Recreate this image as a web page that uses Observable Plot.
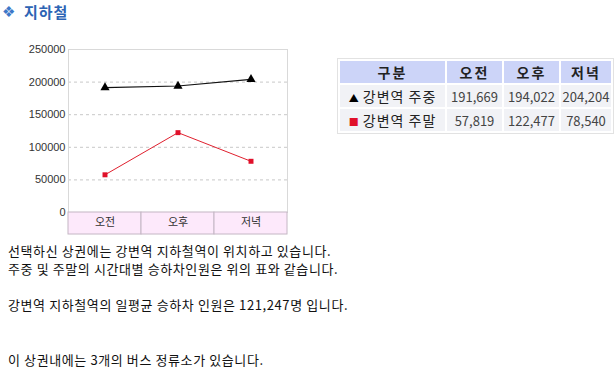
<!DOCTYPE html>
<html><head><meta charset="utf-8">
<script src="https://cdn.jsdelivr.net/npm/d3@7"></script>
<script src="https://cdn.jsdelivr.net/npm/@observablehq/plot@0.6"></script>
<style>
body{margin:0;background:#fff;font-family:"Noto Sans CJK KR","Noto Sans",sans-serif;color:#222;width:615px;height:377px;overflow:hidden;position:relative}
#dia{position:absolute;left:2px;top:3px;font-size:15px;line-height:18px;color:#3d78c8;font-family:"DejaVu Sans",sans-serif}
#title{position:absolute;left:24px;top:3px;font-size:15px;line-height:18px;font-weight:bold;color:#2d64b4;letter-spacing:1px}
#chart{position:absolute;left:0;top:0}
#tbl{position:absolute;left:337px;top:58px;border:1px solid #e2e2e2;border-spacing:2px;background:#fff;font-size:13px}
#tbl th{background:#ccd4f8;font-weight:bold;height:22px;padding:0;text-align:center;color:#222;font-size:14px;letter-spacing:2px}
#tbl td{background:#f1f2f6;height:22px;padding:0;text-align:center;color:#444}
#tbl td.lbl{color:#222;font-size:14px;letter-spacing:1px;white-space:nowrap}
.txt{position:absolute;left:8px;font-size:13px;line-height:18px;letter-spacing:0.6px;color:#111;white-space:nowrap}
</style></head>
<body>
<div id="dia">❖</div>
<div id="title">지하철</div>
<div id="chart"></div>
<table id="tbl"></table>
<div class="txt" style="top:242px">선택하신 상권에는 강변역 지하철역이 위치하고 있습니다.</div>
<div class="txt" style="top:260px">주중 및 주말의 시간대별 승하차인원은 위의 표와 같습니다.</div>
<div class="txt" style="top:296px">강변역 지하철역의 일평균 승하차 인원은 121,247명 입니다.</div>
<div class="txt" style="top:351px">이 상권내에는 3개의 버스 정류소가 있습니다.</div>
<script>
const categories = ["오전", "오후", "저녁"];
const seriesNames = ["강변역 주중", "강변역 주말"];
const weekday = [191669, 194022, 204204];
const weekend = [57819, 122477, 78540];
const yTicks = [0, 50000, 100000, 150000, 200000, 250000];
const headers = ["구분", "오전", "오후", "저녁"];

const dataWeekday = categories.map((c, i) => ({cat: c, v: weekday[i]}));
const dataWeekend = categories.map((c, i) => ({cat: c, v: weekend[i]}));

const chart = Plot.plot({
  width: 300,
  height: 240,
  marginLeft: 68,
  marginRight: 13,
  marginTop: 49,
  marginBottom: 28,
  style: {fontFamily: "Liberation Sans, Arial, sans-serif", fontSize: "11px", color: "#333", background: "transparent"},
  x: {type: "band", domain: categories, padding: 0, axis: null, label: null},
  y: {domain: [0, 250000], ticks: yTicks, axis: null, label: null},
  marks: [
    Plot.gridY(yTicks.slice(1, -1), {stroke: "#c8c8c8", strokeOpacity: 1, strokeDasharray: "3,3"}),
    Plot.frame({stroke: "#d9d9d9"}),
    Plot.rect(categories, {x: d => d, y1: 0, y2: 0, insetBottom: -22, fill: "#fde9fb", stroke: "#c4b6c4"}),
    Plot.axisY({ticks: yTicks, tickSize: 0, tickPadding: 3, tickFormat: d => String(d), fontSize: 11, fill: "#333", label: null}),
    Plot.axisX({tickSize: 0, tickPadding: 6, fontSize: 11, fill: "#333", fontFamily: "Noto Sans CJK KR", label: null}),
    Plot.line(dataWeekday, {x: "cat", y: "v", stroke: "#111", strokeWidth: 1.2}),
    Plot.dot(dataWeekday, {x: "cat", y: "v", symbol: "triangle", fill: "#000", r: 3.4}),
    Plot.line(dataWeekend, {x: "cat", y: "v", stroke: "#e0202e", strokeWidth: 1}),
    Plot.dot(dataWeekend, {x: "cat", y: "v", symbol: "square", fill: "#e0102a", r: 2.8})
  ]
});
document.getElementById("chart").append(chart);

const fmt = d3.format(",");
const tbl = document.getElementById("tbl");
const colW = [105, 55, 55, 50];
let html = "<tr>" + headers.map((h, i) => `<th style="width:${colW[i]}px">${h}</th>`).join("") + "</tr>";
const rows = [
  {name: seriesNames[0], mark: '<span style="color:#000;font-size:10px;letter-spacing:0">▲</span>', vals: weekday},
  {name: seriesNames[1], mark: '<span style="color:#e0102a;font-size:10px;letter-spacing:0">■</span>', vals: weekend}
];
for (const r of rows) {
  html += `<tr><td class="lbl">${r.mark} ${r.name}</td>` + r.vals.map(v => `<td>${fmt(v)}</td>`).join("") + "</tr>";
}
tbl.innerHTML = html;
</script>
</body></html>
